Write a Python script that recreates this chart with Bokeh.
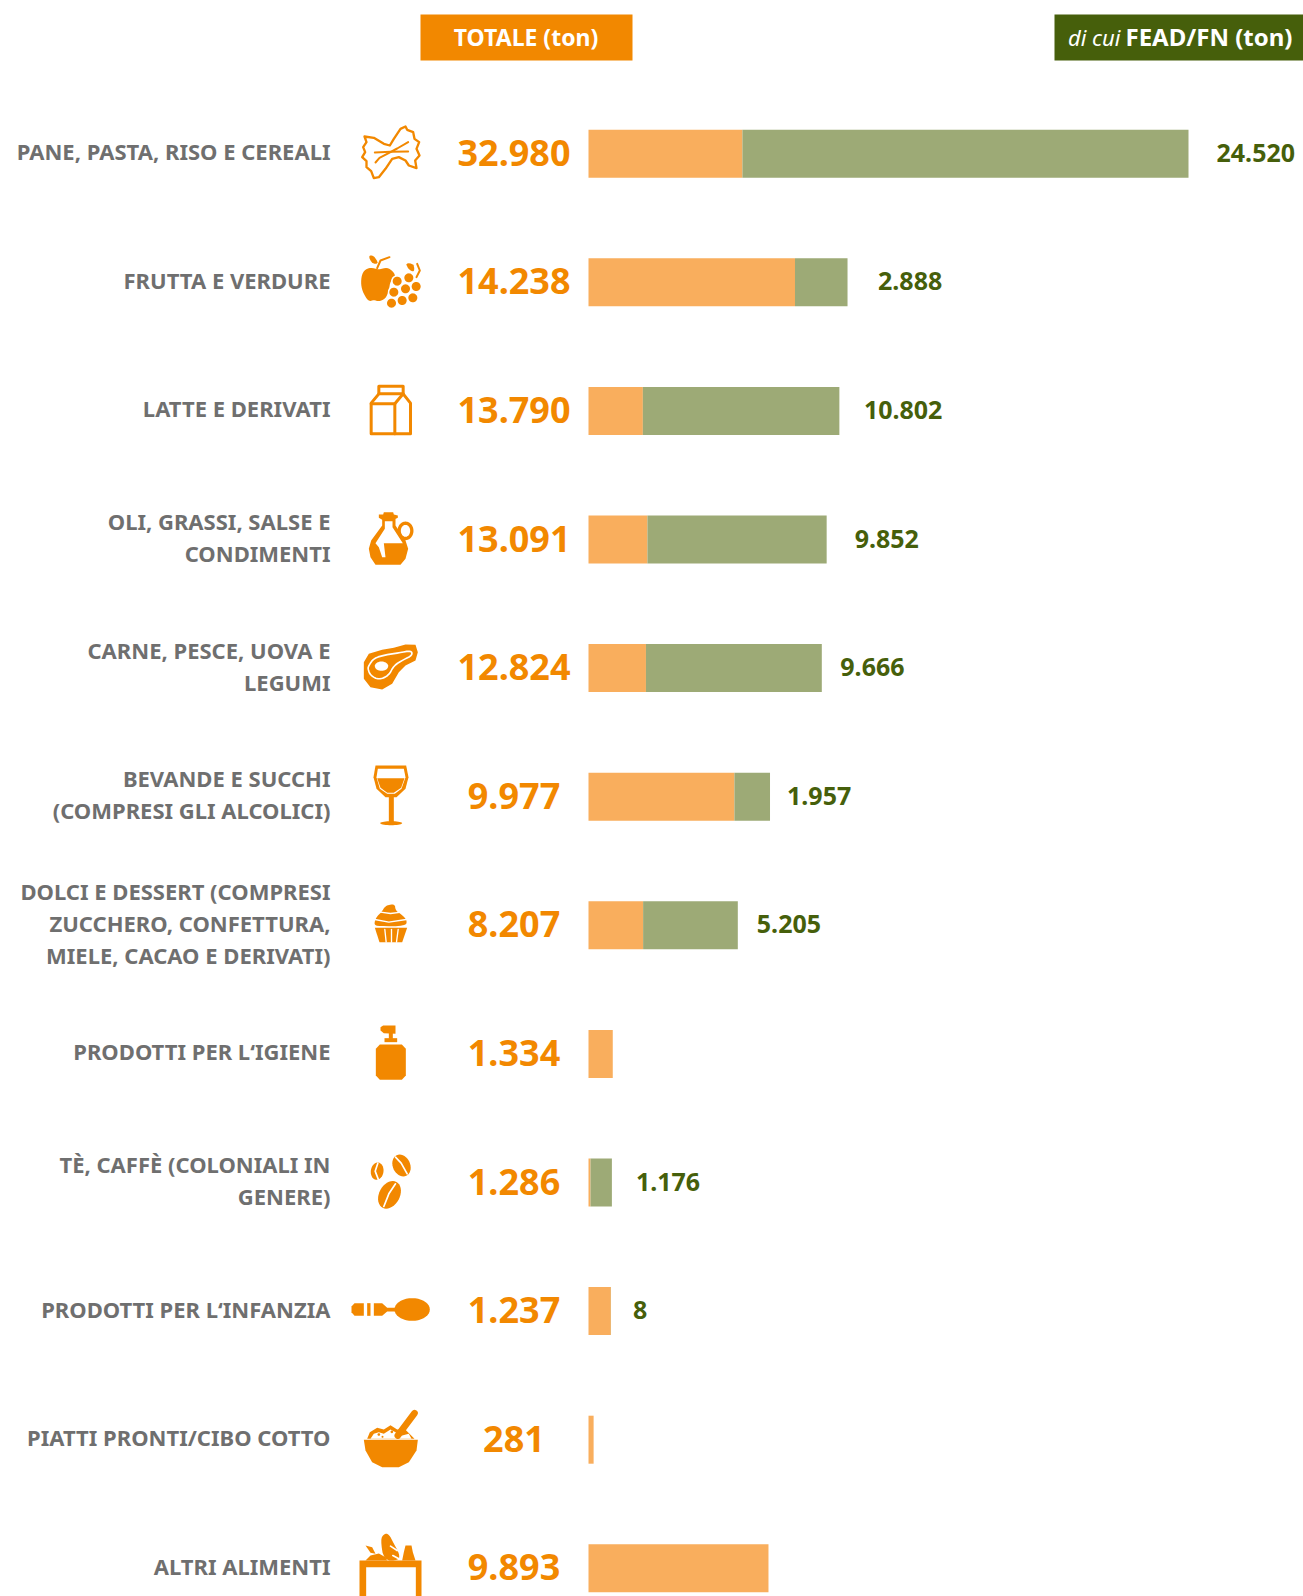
import math
from bokeh.plotting import figure
from bokeh.models import Range1d, ColumnDataSource
from bokeh.core.properties import value
from bokeh.embed import file_html
from bokeh.resources import INLINE

categories = [
    ["PANE, PASTA, RISO E CEREALI"],
    ["FRUTTA E VERDURE"],
    ["LATTE E DERIVATI"],
    ["OLI, GRASSI, SALSE E", "CONDIMENTI"],
    ["CARNE, PESCE, UOVA E", "LEGUMI"],
    ["BEVANDE E SUCCHI", "(COMPRESI GLI ALCOLICI)"],
    ["DOLCI E DESSERT (COMPRESI", "ZUCCHERO, CONFETTURA,", "MIELE, CACAO E DERIVATI)"],
    ["PRODOTTI PER L‘IGIENE"],
    ["TÈ, CAFFÈ (COLONIALI IN", "GENERE)"],
    ["PRODOTTI PER L‘INFANZIA"],
    ["PIATTI PRONTI/CIBO COTTO"],
    ["ALTRI ALIMENTI"],
]
totale = [32980, 14238, 13790, 13091, 12824, 9977, 8207, 1334, 1286, 1237, 281, 9893]
fead = [24520, 2888, 10802, 9852, 9666, 1957, 5205, 0, 1176, 8, 0, 0]
totale_labels = ["32.980", "14.238", "13.790", "13.091", "12.824", "9.977", "8.207", "1.334", "1.286", "1.237", "281", "9.893"]
fead_labels = ["24.520", "2.888", "10.802", "9.852", "9.666", "1.957", "5.205", "", "1.176", "8", "", ""]
fead_label_gap = [28, 30.5, 24.5, 28, 18.5, 17, 19, 0, 24, 22, 0, 0]

ORANGE = "#F28800"
LIGHT = "#F9AE5D"
SAGE = "#9DAA76"
DARK = "#465F0B"
GREY = "#6F6F6F"
FONT = "Noto Sans"

W, H = 1303, 1596
PX_PER_TON = 600 / 32980
BAR_X0 = 588
ROW0, ROW_H = 153.2, 128.6

n = len(totale)
x_range = Range1d((0 - BAR_X0) / PX_PER_TON, (W - BAR_X0) / PX_PER_TON)
y_range = Range1d((H - ROW0) / ROW_H, (0 - ROW0) / ROW_H)
p = figure(width=W, height=H, x_range=x_range, y_range=y_range, output_backend="svg",
           toolbar_location=None, min_border=0, outline_line_color=None,
           background_fill_color="white", border_fill_color="white")
p.axis.visible = False
p.grid.visible = False
p.extra_x_ranges["px"] = Range1d(0, W)
p.extra_y_ranges["px"] = Range1d(H, 0)

rows = list(range(n))
own = [t - f for t, f in zip(totale, fead)]
BAR_H = 48 / ROW_H
p.hbar(y=rows, left=[0] * n, right=own, height=BAR_H, color=LIGHT, line_color=None)
p.hbar(y=rows, left=own, right=totale, height=BAR_H, color=SAGE, line_color=None)

# headers
p.quad(left=[420, 1054], right=[632, 1303], top=[14, 14], bottom=[60, 60],
       fill_color=[ORANGE, DARK], line_color=None, x_range_name="px", y_range_name="px")
p.text(x=[525.5], y=[36.5], text=["TOTALE (ton)"], text_color="white", text_align="center",
       text_baseline="middle", text_font=value(FONT), text_font_size="23px", text_font_style="bold",
       x_range_name="px", y_range_name="px")
p.text(x=[1120], y=[36], text=["di cui"], text_color="white", text_align="right",
       text_baseline="middle", text_font=value(FONT), text_font_size="22px", text_font_style="italic",
       x_range_name="px", y_range_name="px")
p.text(x=[1125], y=[36], text=["FEAD/FN (ton)"], text_color="white", text_align="left",
       text_baseline="middle", text_font=value(FONT), text_font_size="24px", text_font_style="bold",
       x_range_name="px", y_range_name="px")

# category labels
cx, cy, ct, cd = [], [], [], []
for i, lines in enumerate(categories):
    for k, line in enumerate(lines):
        cx.append(330)
        cy.append(i)
        ct.append(line)
        cd.append((k - (len(lines) - 1) / 2) * 32 - 2.5)
p.text(x="x", y="y", text="t", y_offset="d", source=ColumnDataSource(dict(x=cx, y=cy, t=ct, d=cd)),
       text_color=GREY, text_align="right", text_baseline="middle", text_font=value(FONT),
       text_font_size="22px", text_font_style="bold", x_range_name="px")

# total labels
p.text(x=[513.5] * n, y=rows, text=totale_labels, y_offset=-1, text_color=ORANGE, text_align="center",
       text_baseline="middle", text_font=value(FONT), text_font_size="36px", text_font_style="bold",
       x_range_name="px")

# FEAD labels
p.text(x=totale, y=rows, text=fead_labels, x_offset=fead_label_gap, y_offset=-1, text_color=DARK, text_align="left",
       text_baseline="middle", text_font=value(FONT), text_font_size="25px", text_font_style="bold")


def chaikin(pts, it=2):
    for _ in range(it):
        out = []
        m = len(pts)
        for j in range(m):
            a, b = pts[j], pts[(j + 1) % m]
            out.append((0.75 * a[0] + 0.25 * b[0], 0.75 * a[1] + 0.25 * b[1]))
            out.append((0.25 * a[0] + 0.75 * b[0], 0.25 * a[1] + 0.75 * b[1]))
        pts = out
    return pts


def ell(cx_, cy_, w, h, ang=0):
    c, s = math.cos(math.radians(ang)), math.sin(math.radians(ang))
    res = []
    for j in range(36):
        t = 2 * math.pi * j / 36
        a, b = w / 2 * math.cos(t), h / 2 * math.sin(t)
        res.append((cx_ + a * c - b * s, cy_ + a * s + b * c))
    return res


polys, lines_ = [], []


def fill(o, pts, color=ORANGE, smooth=False):
    pts = chaikin(pts) if smooth else pts
    polys.append(([o[0] + a / 3 for a, _ in pts], [o[1] + b / 3 for _, b in pts], color))


def stroke(o, pts, w=5, color=ORANGE, smooth=False, closed=False):
    if closed and not smooth:
        pts = pts + [pts[0]]
    if smooth:
        pts = chaikin(pts)
        if closed:
            pts = pts + [pts[0]]
    lines_.append(([o[0] + a / 3 for a, _ in pts], [o[1] + b / 3 for _, b in pts], w / 3, color))


A = (340, 0)
B = (340, 360)
C = (340, 740)
D = (340, 1130)
F = (355, 120)
K = (365, 895)
S = (355, 1525)

# farfalla
stroke(A, [(72, 408), (78, 425), (68, 440), (74, 455), (65, 470), (78, 482), (78, 500), (92, 512), (100, 533),
           (115, 530), (135, 505), (155, 475), (175, 470), (195, 480), (205, 495), (228, 503), (224, 480),
           (237, 465), (228, 445), (236, 425), (222, 415), (218, 395), (200, 388), (195, 378), (180, 385),
           (160, 415), (148, 435), (130, 430), (100, 412)], w=7, closed=True)
stroke(F, [(58, 96), (105, 94), (158, 93)], w=6)
stroke(F, [(60, 126), (72, 112), (95, 100), (125, 84), (158, 65)], w=6)

# frutta
fill(A, [(62, 830), (70, 810), (90, 800), (115, 808), (140, 800), (160, 815), (165, 830), (150, 840), (145, 870),
         (135, 895), (115, 903), (100, 898), (85, 903), (72, 885), (62, 860)], smooth=True)
fill(A, [(83, 765), (100, 765), (115, 790), (95, 790)], smooth=True)
stroke(A, [(110, 803), (120, 780), (147, 770)], w=6)
fill(A, [(195, 787), (220, 790), (222, 815), (205, 808)], smooth=True)
stroke(A, [(230, 790), (238, 810), (228, 830)], w=6)
for gx, gy in [(170, 842), (160, 875), (153, 908)]:
    fill(A, ell(gx, gy, 36, 36), "white")
for gx, gy in [(170, 842), (205, 832), (160, 875), (195, 865), (227, 858), (185, 900), (217, 892), (153, 908)]:
    fill(A, ell(gx, gy, 27, 27))

# latte
stroke(B, [(92, 220), (92, 128), (115, 100), (188, 100), (210, 128), (210, 220)], w=9, closed=True)
stroke(B, [(115, 100), (115, 77), (188, 77), (188, 100)], w=9)
stroke(B, [(92, 130), (163, 130), (163, 220)], w=9)
stroke(B, [(163, 130), (188, 100)], w=9)

# olio
fill(B, [(125, 475), (165, 475), (165, 495), (195, 540), (203, 565), (195, 595), (180, 613), (105, 613), (90, 590),
         (85, 565), (92, 540), (125, 495)])
fill(B, [(133, 482), (156, 482), (156, 500), (187, 548), (130, 548), (135, 590), (125, 590), (115, 560), (105, 548),
         (133, 505)], "white")
fill(B, [(115, 462), (128, 462), (130, 455), (158, 455), (160, 462), (172, 465), (172, 472), (160, 478), (125, 478),
         (115, 472)])
jug = ell(195, 511, 38, 46)
stroke(B, jug + jug[:1], w=10)

# carne
fill(B, [(70, 905), (85, 880), (125, 868), (160, 862), (195, 852), (225, 853), (232, 875), (225, 900), (195, 915),
         (175, 935), (155, 970), (125, 987), (90, 980), (70, 955)], smooth=False)
stroke(B, [(85, 915), (100, 893), (135, 883), (175, 877), (213, 870), (215, 885), (190, 897), (160, 915), (145, 945),
           (115, 958), (90, 945), (82, 925)], w=5, color="white", smooth=True, closed=True)
fill(B, ell(123, 917, 40, 28), "white")

# vino
fill(C, [(105, 75), (197, 75), (204, 110), (195, 145), (168, 170), (135, 170), (108, 145), (99, 110)], smooth=False)
fill(C, [(112, 85), (190, 85), (195, 110), (183, 145), (163, 160), (140, 160), (118, 145), (108, 110)], "white")
fill(C, [(110, 113), (192, 113), (182, 142), (160, 157), (140, 157), (120, 142)])
fill(C, [(145, 168), (160, 168), (160, 245), (145, 245)])
fill(C, ell(152, 248, 66, 12))

# dolci
fill(K, [(88, 25), (60, 30), (48, 50), (32, 65), (25, 88), (40, 92), (120, 92), (125, 75), (110, 58), (90, 45)], smooth=True)
stroke(K, [(45, 50), (75, 54), (108, 50)], w=4, color="white")
stroke(K, [(28, 72), (70, 80), (122, 72)], w=4, color="white")
fill(K, [(28, 97), (125, 97), (110, 140), (42, 140)])
stroke(K, [(58, 102), (62, 140)], w=4, color="white")
stroke(K, [(78, 102), (78, 140)], w=4, color="white")
stroke(K, [(98, 102), (93, 140)], w=4, color="white")

# igiene
fill(C, [(106, 925), (118, 912), (184, 912), (196, 925), (196, 1005), (184, 1018), (118, 1018), (106, 1005)])
fill(C, [(132, 893), (170, 893), (170, 905), (132, 905)])
fill(C, [(145, 875), (157, 875), (157, 895), (145, 895)])
fill(C, [(120, 860), (128, 855), (165, 855), (165, 880), (130, 878), (120, 870)])

# caffe
for ex, ey, ew, eh, ea, curve in [
    (110, 122, 38, 52, 8, [(112, 98), (104, 122), (114, 148)]),
    (183, 105, 52, 68, -25, [(165, 80), (182, 98), (200, 130)]),
    (147, 193, 62, 88, 28, [(165, 160), (145, 190), (130, 228)]),
]:
    fill(D, ell(ex, ey, ew, eh, ea))
    stroke(D, curve, w=5, color="white")

# infanzia
fill(D, [(42, 518), (70, 518), (70, 556), (42, 556), (33, 545), (33, 528)])
fill(D, [(80, 518), (90, 518), (90, 556), (80, 556)])
fill(D, [(100, 518), (125, 518), (140, 532), (170, 532), (170, 543), (140, 543), (125, 556), (100, 556)])
fill(D, ell(215, 537, 106, 68))

# piatti pronti
stroke(D, [(172, 915), (222, 848)], w=20)
fill(D, [(80, 925), (88, 905), (110, 892), (130, 897), (150, 884), (170, 897), (195, 898), (222, 925)])
fill(D, [(90, 925), (100, 910), (115, 905), (130, 910), (150, 897), (165, 905), (185, 915), (205, 910), (213, 925)], "white")
fill(D, ell(115, 912, 8, 8))
fill(D, ell(126, 919, 6, 6))
fill(D, ell(154, 904, 8, 8))
fill(D, [(70, 928), (232, 928), (228, 960), (205, 995), (175, 1010), (125, 1010), (95, 995), (75, 960)])

# altri alimenti
fill(S, [(12, 105), (198, 105), (198, 213), (12, 213)])
fill(S, [(32, 125), (181, 125), (181, 213), (32, 213)], "white")
fill(S, [(75, 42), (85, 25), (100, 25), (115, 55), (132, 85), (130, 105), (85, 105)], smooth=True)
fill(S, [(30, 105), (45, 90), (70, 84), (90, 95), (95, 105)])
fill(S, [(30, 60), (50, 65), (60, 85), (45, 82)])
fill(S, [(150, 60), (168, 60), (172, 80), (180, 105), (140, 105), (145, 80)])
stroke(S, [(105, 62), (125, 75)], w=5, color="white")
stroke(S, [(112, 90), (130, 100)], w=5, color="white")

p.patches(xs=[a for a, _, _ in polys], ys=[b for _, b, _ in polys], fill_color=[c for _, _, c in polys],
          line_color=None, x_range_name="px", y_range_name="px")
p.multi_line(xs=[l[0] for l in lines_], ys=[l[1] for l in lines_], line_width=[l[2] for l in lines_],
             line_color=[l[3] for l in lines_], line_cap="round", line_join="round",
             x_range_name="px", y_range_name="px")

open("out.html", "w").write(file_html(p, INLINE))
